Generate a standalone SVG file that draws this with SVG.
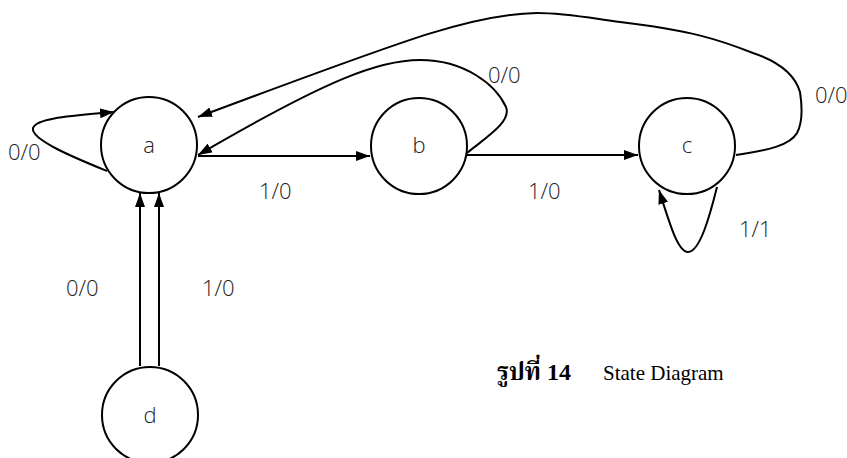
<svg xmlns="http://www.w3.org/2000/svg" width="847" height="458" viewBox="0 0 847 458">
  <style>
    .node circle { fill: #ffffff; stroke: #000000; stroke-width: 2; }
    .node text { font-family: "Open Sans", "Liberation Sans", sans-serif; font-weight: 300; font-size: 22px; fill: #222222; text-anchor: middle; }
    .edge { fill: none; stroke: #000000; stroke-width: 2; marker-end: url(#arrow); }
    .lbl { font-family: "Open Sans", "Liberation Sans", sans-serif; font-weight: 300; font-size: 22px; fill: #222222; }
    .caption { font-family: "Liberation Serif", "Noto Serif Thai", "Noto Sans Thai", serif; fill: #000000; }
  </style>
  <defs>
    <marker id="arrow" viewBox="0 0 14 10" refX="14" refY="5" markerWidth="14" markerHeight="10" orient="auto" markerUnits="userSpaceOnUse">
      <path d="M0,0 L14,5 L0,10 z" fill="#000000"/>
    </marker>
  </defs>

  <rect width="847" height="458" fill="#ffffff"/>

  <!-- transitions -->
  <g id="connectors">
    <!-- a loop 0/0 -->
    <path class="edge" d="M107,171 C80,160 30,140 33,128 C36,118 70,116 114,112"/>
    <!-- a -> b 1/0 -->
    <path class="edge" d="M198,156 L370,156"/>
    <!-- b -> c 1/0 -->
    <path class="edge" d="M467,155 L638,155"/>
    <!-- b -> a 0/0 -->
    <path class="edge" d="M467,153 C485,138 512,122 506,107 C496,85 465,60 420,60 C380,60 330,78 198,155"/>
    <!-- c -> a 0/0 -->
    <path class="edge" d="M736,155 C770,150 790,145 797,133 C803,122 802,105 800,92 C795,75 780,62 753,53 C720,40 690,30 620,22 C590,18 565,13 537,13 C470,14 400,42 198,117"/>
    <!-- c loop 1/1 -->
    <path class="edge" d="M717,187 C710,215 700,252 688,252 C678,252 670,225 659,190"/>
    <!-- d -> a 0/0 and 1/0 -->
    <path class="edge" d="M140,366 L140,193"/>
    <path class="edge" d="M159,366 L159,193"/>
  </g>

  <!-- transition labels -->
  <g id="labels">
    <text class="lbl" x="8" y="160">0/0</text>
    <text class="lbl" x="259" y="199">1/0</text>
    <text class="lbl" x="528" y="199">1/0</text>
    <text class="lbl" x="488" y="83">0/0</text>
    <text class="lbl" x="815" y="103">0/0</text>
    <text class="lbl" x="739" y="237">1/1</text>
    <text class="lbl" x="66" y="296">0/0</text>
    <text class="lbl" x="202" y="296">1/0</text>
  </g>

  <!-- states -->
  <g id="state-a" class="node">
    <circle cx="149" cy="145" r="48"/>
    <text x="149" y="153">a</text>
  </g>
  <g id="state-b" class="node">
    <circle cx="419" cy="146" r="48"/>
    <text x="419" y="153">b</text>
  </g>
  <g id="state-c" class="node">
    <circle cx="687" cy="146" r="48"/>
    <text x="687" y="153">c</text>
  </g>
  <g id="state-d" class="node">
    <circle cx="150" cy="415" r="48"/>
    <text x="150" y="423">d</text>
  </g>

  <!-- figure caption -->
  <text class="caption" x="497" y="380"><tspan font-weight="bold" font-size="24">รูปที่ 14</tspan><tspan x="603" font-size="21">State Diagram</tspan></text>
</svg>
